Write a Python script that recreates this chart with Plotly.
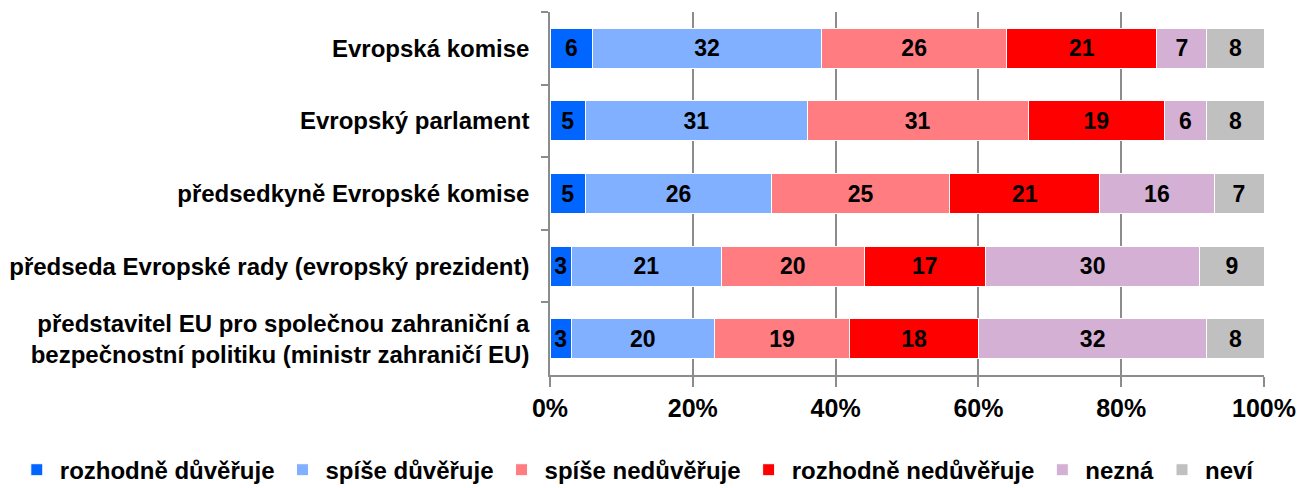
import plotly.graph_objects as go

categories = [
    "Evropská komise",
    "Evropský parlament",
    "předsedkyně Evropské komise",
    "předseda Evropské rady (evropský prezident)",
    "představitel EU pro společnou zahraniční a<br>bezpečnostní politiku (ministr zahraničí EU)",
]
series_names = ["rozhodně důvěřuje", "spíše důvěřuje", "spíše nedůvěřuje",
                "rozhodně nedůvěřuje", "nezná", "neví"]
rozhodne_duveruje = [6, 5, 5, 3, 3]
spise_duveruje = [32, 31, 26, 21, 20]
spise_neduveruje = [26, 31, 25, 20, 19]
rozhodne_neduveruje = [21, 19, 21, 17, 18]
nezna = [7, 6, 16, 30, 32]
nevi = [8, 8, 7, 9, 8]
series_values = [rozhodne_duveruje, spise_duveruje, spise_neduveruje,
                 rozhodne_neduveruje, nezna, nevi]
colors = ["#0066FF", "#80B0FF", "#FF7C80", "#FF0000", "#D3B0D4", "#C0C0C0"]
tick_vals = [0, 20, 40, 60, 80, 100]
tick_text = ["0%", "20%", "40%", "60%", "80%", "100%"]

FONT = "Liberation Sans, Arial, sans-serif"

fig = go.Figure()
for name, vals, col in zip(series_names, series_values, colors):
    fig.add_trace(go.Bar(
        y=categories, x=vals, name=name, orientation="h",
        marker=dict(color=col, line=dict(color="#FFFFFF", width=1)),
        text=[str(v) for v in vals], texttemplate="%{text}",
        textposition="inside", insidetextanchor="middle", textangle=0,
        textfont=dict(family=FONT, size=23, color="#000000", weight="bold"),
        hoverinfo="skip",
    ))

# figure sits inside the page body's 8px margin
fig.update_layout(
    width=1300, height=480,
    barmode="stack", bargap=0.45,
    plot_bgcolor="white", paper_bgcolor="white",
    margin=dict(l=542, r=44, t=4, b=113, autoexpand=False),
    font=dict(family=FONT, color="#000000"),
    uniformtext=dict(mode="show", minsize=23),
    showlegend=True,
    legend=dict(orientation="h", xref="paper", yref="paper",
                x=-0.751, xanchor="left", y=-0.262, yanchor="middle",
                font=dict(family=FONT, size=24, weight="bold"),
                itemwidth=36, traceorder="normal", tracegroupgap=0),
    xaxis=dict(range=[0, 100], tickvals=tick_vals, ticktext=tick_text,
               showgrid=True, gridcolor="#8C8C8C", gridwidth=1.5,
               showline=True, linecolor="#8C8C8C", linewidth=1.5,
               ticks="outside", ticklen=10, tickcolor="#8C8C8C", tickwidth=1.5,
               tickfont=dict(family=FONT, size=25, weight="bold"),
               ticklabelstandoff=0, automargin=False,
               zeroline=False, fixedrange=True),
    yaxis=dict(autorange="reversed", showline=True, linecolor="#8C8C8C",
               linewidth=1.5, ticks="outside", ticklen=7, tickcolor="#8C8C8C",
               tickwidth=1.5, tickson="boundaries", showgrid=False,
               tickfont=dict(family=FONT, size=24, weight="bold"),
               ticklabelstandoff=14, automargin=False),
)

fig.write_html("out.html")
